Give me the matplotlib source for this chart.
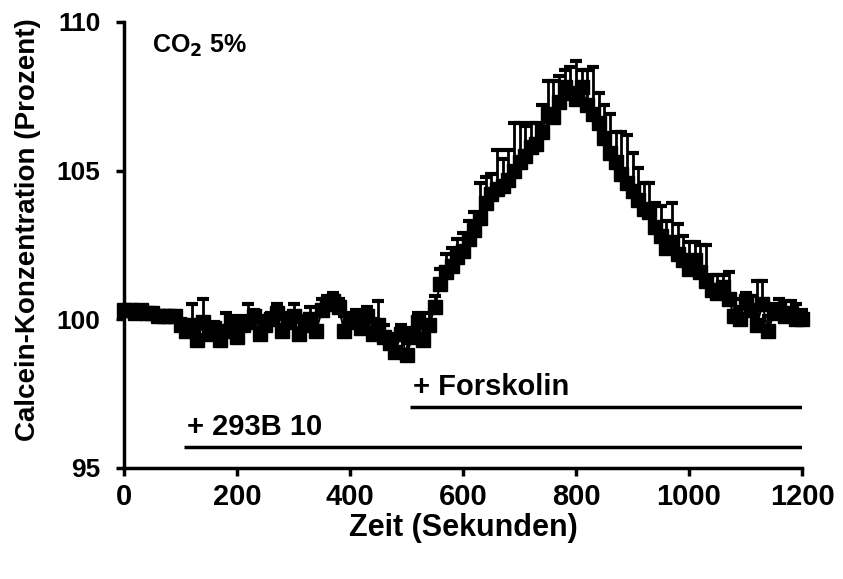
import numpy as np
import matplotlib
matplotlib.use("Agg")
import matplotlib.pyplot as plt

plt.rcParams['font.family'] = ['Liberation Sans', 'DejaVu Sans']
plt.rcParams['font.weight'] = 'bold'

# Zeitpunkte (s), Calcein-Konzentration (%) und Standardfehler (nur nach oben)
zeit = np.arange(0, 1201, 10)
calcein = [
    100.3, 100.3, 100.2, 100.3, 100.2, 100.2, 100.1, 100.1, 100.1, 100.1,
    99.8, 99.6, 99.8, 99.3, 99.9, 99.5, 99.7, 99.3, 99.6, 99.9,
    99.4, 99.8, 99.9, 100.1, 99.5, 99.8, 100.0, 100.2, 99.6, 99.9,
    100.1, 99.5, 99.8, 100.0, 99.6, 100.3, 100.5, 100.6, 100.4, 99.6,
    99.9, 100.0, 99.7, 100.1, 99.5, 99.8, 99.4, 99.2, 98.9, 99.5,
    98.8, 99.4, 99.9, 99.3, 99.8, 100.4, 101.2, 101.6, 101.8, 102.1,
    102.3, 102.7, 103.0, 103.4, 103.9, 104.2, 104.4, 104.5, 104.7, 105.0,
    105.3, 105.5, 105.8, 105.9, 106.3, 106.9, 106.8, 107.3, 107.8, 107.6,
    107.4, 107.8, 107.2, 106.9, 106.6, 106.1, 105.6, 105.3, 104.9, 104.6,
    104.3, 104.0, 103.7, 103.6, 103.1, 102.8, 102.4, 102.6, 102.2, 102.0,
    101.7, 102.0, 101.6, 101.3, 101.0, 100.9, 101.1, 100.7, 100.1, 100.0,
    100.6, 100.3, 99.8, 100.5, 99.6, 100.2, 100.3, 100.1, 100.2, 100.0,
    100.0,
]
fehler = [
    0.1, 0.1, 0.1, 0.1, 0.1, 0.1, 0.1, 0.1, 0.1, 0.1,
    0.2, 0.3, 0.7, 0.4, 0.8, 0.3, 0.2, 0.4, 0.6, 0.2,
    0.3, 0.3, 0.6, 0.2, 0.4, 0.3, 0.2, 0.3, 0.4, 0.3,
    0.4, 0.4, 0.3, 0.4, 0.5, 0.4, 0.3, 0.3, 0.3, 0.5,
    0.3, 0.3, 0.4, 0.3, 0.5, 0.8, 0.4, 0.3, 0.4, 0.3,
    0.4, 0.3, 0.3, 0.5, 0.4, 0.4, 0.5, 0.6, 0.6, 0.6,
    0.6, 0.6, 0.6, 1.2, 0.9, 0.7, 1.3, 0.9, 1.0, 1.6,
    1.3, 1.0, 0.8, 0.7, 0.9, 1.1, 1.2, 0.9, 0.6, 0.9,
    1.3, 0.6, 1.2, 1.6, 1.0, 1.1, 1.3, 1.0, 1.4, 1.6,
    1.3, 1.1, 0.9, 1.0, 0.8, 1.0, 0.9, 1.3, 1.0, 0.8,
    0.9, 0.6, 0.9, 1.2, 0.5, 0.6, 0.4, 0.9, 0.6, 0.4,
    0.3, 0.5, 1.5, 0.8, 0.5, 0.3, 0.4, 0.5, 0.4, 0.5,
    0.3,
]

# Applikationszeiträume der Substanzen (s) und Höhe der Balken
forskolin_start, forskolin_ende, forskolin_y = 506, 1200, 97.05
b293_start, b293_ende, b293_y = 106, 1200, 95.7

fig = plt.figure(figsize=(8.43, 5.79), dpi=100)
ax = fig.add_axes([124/843, 111/579, 678/843, 446/579])

unten = np.zeros(len(fehler))
ax.errorbar(zeit, calcein, yerr=[unten, fehler], fmt='s', color='black',
            markersize=10, elinewidth=2, capsize=4.5, capthick=3,
            linestyle='-', linewidth=1.5, clip_on=False)

ax.plot([forskolin_start, forskolin_ende], [forskolin_y, forskolin_y],
        color='black', linewidth=2.5, solid_capstyle='butt')
ax.plot([b293_start, b293_ende], [b293_y, b293_y],
        color='black', linewidth=2.5, solid_capstyle='butt')
ax.text(forskolin_start + 5, forskolin_y + 0.2, '+ Forskolin', fontsize=21,
        fontweight='bold', va='bottom')
ax.text(b293_start + 5, b293_y + 0.2, '+ 293B 10', fontsize=21,
        fontweight='bold', va='bottom')
ax.text(50, 109.2, 'CO$_\\mathbf{2}$ 5%', fontsize=18, fontweight='bold',
        va='center')

ax.set_xlim(0, 1200)
ax.set_ylim(95, 110)
ax.set_xticks([0, 200, 400, 600, 800, 1000, 1200])
ax.set_yticks([95, 100, 105, 110])
for s in ['top', 'right']:
    ax.spines[s].set_visible(False)
for s in ['left', 'bottom']:
    ax.spines[s].set_linewidth(2.5)
ax.tick_params(width=2.5, length=6, direction='out')
ax.tick_params(axis='x', labelsize=21, pad=5)
ax.tick_params(axis='y', labelsize=19, pad=11)
for lab in ax.get_xticklabels() + ax.get_yticklabels():
    lab.set_fontweight('bold')
ax.set_xlabel('Zeit (Sekunden)', fontsize=22, fontweight='bold', labelpad=1)
ax.set_ylabel('Calcein-Konzentration (Prozent)', fontsize=20,
              fontweight='bold')
ax.yaxis.set_label_coords(-0.123, 0.534)

plt.savefig('out.png', dpi=100)
